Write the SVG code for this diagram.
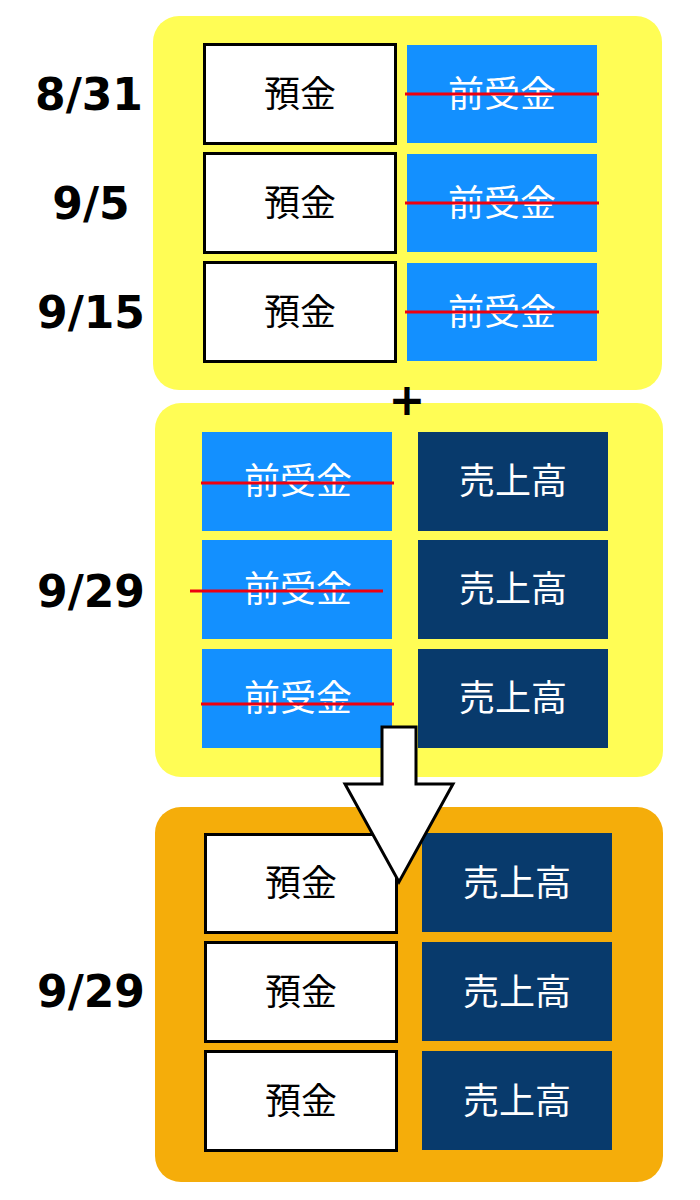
<svg xmlns="http://www.w3.org/2000/svg" width="700" height="1200" viewBox="0 0 700 1200">
<style>
.date{font-family:"DejaVu Sans",sans-serif;font-weight:bold;font-size:44px;fill:#000;text-anchor:middle}
.jp{font-family:"Noto Sans CJK JP","Noto Sans CJK SC",sans-serif;font-size:36px;text-anchor:middle}
.wbox{fill:#fff;stroke:#000;stroke-width:3}
.bbox{fill:#1390FF}
.nbox{fill:#083A6C}
.dk{fill:#000}
.wt{fill:#fff}
.strike{stroke:#EE0010;stroke-width:3}
.ypanel{fill:#FFFD55}
.opanel{fill:#F5AD0A}
</style>
<rect width="700" height="1200" fill="#fff"/>
<g id="panel1">
<rect class="ypanel" x="153" y="16" width="509" height="374" rx="26"/>
</g>
<g id="panel2">
<rect class="ypanel" x="155" y="403" width="508" height="374" rx="26"/>
</g>
<g id="panel3">
<rect class="opanel" x="155" y="807" width="508" height="375" rx="26"/>
</g>
<g id="labels">
<text class="date" x="89" y="110">8/31</text>
<text class="date" x="91" y="219">9/5</text>
<text class="date" x="91" y="328">9/15</text>
<text class="date" x="91" y="607">9/29</text>
<text class="date" x="91" y="1007">9/29</text>
</g>
<g id="p1-dep1"><rect class="wbox" x="204.5" y="44.5" width="191" height="99"/><text class="jp dk" x="300" y="107">預金</text></g>
<g id="p1-adv1"><rect class="bbox" x="407" y="45" width="190" height="98"/><text class="jp wt" x="502" y="107">前受金</text><line class="strike" x1="405" y1="94" x2="599" y2="94"/></g>
<g id="p1-dep2"><rect class="wbox" x="204.5" y="153.5" width="191" height="99"/><text class="jp dk" x="300" y="216">預金</text></g>
<g id="p1-adv2"><rect class="bbox" x="407" y="154" width="190" height="98"/><text class="jp wt" x="502" y="216">前受金</text><line class="strike" x1="405" y1="203" x2="599" y2="203"/></g>
<g id="p1-dep3"><rect class="wbox" x="204.5" y="262.5" width="191" height="99"/><text class="jp dk" x="300" y="325">預金</text></g>
<g id="p1-adv3"><rect class="bbox" x="407" y="263" width="190" height="98"/><text class="jp wt" x="502" y="325">前受金</text><line class="strike" x1="405" y1="312" x2="599" y2="312"/></g>
<g id="plus"><text x="407" y="415" style="font-family:'DejaVu Sans',sans-serif;font-weight:bold;font-size:44px;text-anchor:middle">+</text></g>
<g id="p2-adv1"><rect class="bbox" x="202" y="432" width="190" height="99"/><text class="jp wt" x="298" y="494">前受金</text><line class="strike" x1="201" y1="483" x2="394" y2="483"/></g>
<g id="p2-sales1"><rect class="nbox" x="418" y="432" width="190" height="99"/><text class="jp wt" x="513" y="494">売上高</text></g>
<g id="p2-adv2"><rect class="bbox" x="202" y="540" width="190" height="99"/><text class="jp wt" x="298" y="602">前受金</text><line class="strike" x1="190" y1="591" x2="383" y2="591"/></g>
<g id="p2-sales2"><rect class="nbox" x="418" y="540" width="190" height="99"/><text class="jp wt" x="513" y="602">売上高</text></g>
<g id="p2-adv3"><rect class="bbox" x="202" y="649" width="190" height="99"/><text class="jp wt" x="298" y="711">前受金</text><line class="strike" x1="201" y1="704" x2="394" y2="704"/></g>
<g id="p2-sales3"><rect class="nbox" x="418" y="649" width="190" height="99"/><text class="jp wt" x="513" y="711">売上高</text></g>
<g id="p3-dep1"><rect class="wbox" x="205.5" y="834.5" width="191" height="98"/><text class="jp dk" x="301" y="896">預金</text></g>
<g id="p3-sales1"><rect class="nbox" x="422" y="833" width="190" height="99"/><text class="jp wt" x="517" y="896">売上高</text></g>
<g id="p3-dep2"><rect class="wbox" x="205.5" y="942.5" width="191" height="99"/><text class="jp dk" x="301" y="1005">預金</text></g>
<g id="p3-sales2"><rect class="nbox" x="422" y="942" width="190" height="99"/><text class="jp wt" x="517" y="1005">売上高</text></g>
<g id="p3-dep3"><rect class="wbox" x="205.5" y="1051.5" width="191" height="99"/><text class="jp dk" x="301" y="1114">預金</text></g>
<g id="p3-sales3"><rect class="nbox" x="422" y="1051" width="190" height="99"/><text class="jp wt" x="517" y="1114">売上高</text></g>
<g id="connectors">
<polygon points="382,727 416,727 416,784 453,784 399,882 345,784 382,784" fill="#fff" stroke="#000" stroke-width="3" stroke-linejoin="miter"/>
</g>
</svg>
